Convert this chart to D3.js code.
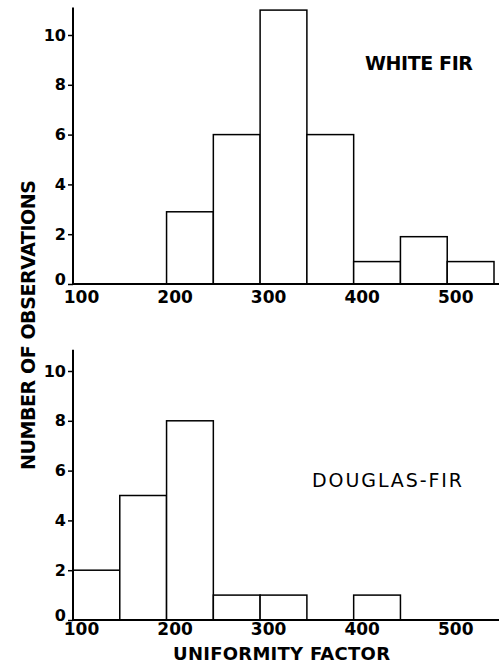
<!DOCTYPE html>
<html>
<head>
<meta charset="utf-8">
<script src="https://cdn.jsdelivr.net/npm/d3@7"></script>
<style>
  body { margin: 0; background: #fff; }
  svg { display: block; }
  .tick-label { font-family: "DejaVu Sans", sans-serif; font-weight: bold; fill: #000; }
  .bar { fill: #fff; stroke: #000; stroke-width: 1.5; }
  .axis-line { stroke: #000; stroke-width: 2; }
</style>
</head>
<body>
<script>
// histogram bins (uniformity factor, lower edge of each 50-wide class)
const binStarts = [100, 150, 200, 250, 300, 350, 400, 450, 500];
const binWidth = 50;
const whiteFir = [0, 0, 2.9, 6, 11, 6, 0.9, 1.9, 0.9];
const douglasFir = [2, 5, 8, 1, 1, 0, 1, 0, 0];
const xTicks = [100, 200, 300, 400, 500];
const yTicks = [0, 2, 4, 6, 8, 10];

const width = 499, height = 666;

const svg = d3.select("body").append("svg")
  .attr("width", width)
  .attr("height", height);

const x = d3.scaleLinear().domain([100, 550]).range([73, 494]);

function panel(values, baseline, axisTop, labelPad, label) {
  const y = d3.scaleLinear().domain([0, 10]).range([baseline, baseline - 249]);
  const g = svg.append("g");

  const bins = binStarts.map((b, i) => ({ x0: b, x1: b + binWidth, v: values[i] }))
                        .filter(d => d.v > 0);

  g.selectAll("rect.bar")
   .data(bins)
   .enter()
   .append("rect")
   .attr("class", "bar")
   .attr("x", d => x(d.x0))
   .attr("width", d => x(d.x1) - x(d.x0))
   .attr("y", d => y(d.v))
   .attr("height", d => y(0) - y(d.v));

  // y axis
  const yAxis = d3.axisLeft(y)
                  .tickValues(yTicks)
                  .tickSize(5)
                  .tickPadding(2);
  const ya = g.append("g")
              .attr("transform", `translate(${x(100)},0)`)
              .call(yAxis);
  ya.select(".domain").remove();
  ya.selectAll(".tick line").attr("stroke", "#000").attr("stroke-width", 1.5);
  ya.selectAll(".tick text")
    .attr("class", "tick-label")
    .attr("y", d => d === 0 ? -5 : 0)
    .style("font-size", "16px");

  g.append("line")
   .attr("class", "axis-line")
   .attr("x1", x(100)).attr("x2", x(100))
   .attr("y1", y(axisTop)).attr("y2", y(0));

  // x axis
  const xAxis = d3.axisBottom(x)
                  .tickValues(xTicks)
                  .tickSize(0)
                  .tickPadding(labelPad);
  const xa = g.append("g")
              .attr("transform", `translate(0,${y(0)})`)
              .call(xAxis);
  xa.select(".domain").remove();
  xa.selectAll(".tick text")
    .attr("class", "tick-label")
    .attr("dx", 8)
    .style("font-size", "17px");

  g.append("line")
   .attr("class", "axis-line")
   .attr("x1", x(100)).attr("x2", 499)
   .attr("y1", y(0)).attr("y2", y(0));

  g.append("text")
   .attr("x", label.x)
   .attr("y", label.y)
   .attr("textLength", label.len)
   .attr("lengthAdjust", "spacing")
   .style("font-family", "DejaVu Sans, sans-serif")
   .style("font-weight", label.bold ? "bold" : "normal")
   .style("font-size", "19px")
   .text(label.text);
}

panel(whiteFir, 284, 11.1, 7, { text: "WHITE FIR", x: 365, y: 70, len: 108, bold: true });
panel(douglasFir, 620, 10.85, 3, { text: "DOUGLAS-FIR", x: 312, y: 487, len: 150, bold: false });

// axis titles
svg.append("text")
   .attr("transform", "translate(35,325) rotate(-90)")
   .attr("text-anchor", "middle")
   .attr("textLength", 290)
   .attr("lengthAdjust", "spacing")
   .style("font-family", "DejaVu Sans, sans-serif")
   .style("font-weight", "bold")
   .style("font-size", "19px")
   .text("NUMBER OF OBSERVATIONS");

svg.append("text")
   .attr("x", 173)
   .attr("y", 660)
   .attr("textLength", 217)
   .attr("lengthAdjust", "spacing")
   .style("font-family", "DejaVu Sans, sans-serif")
   .style("font-weight", "bold")
   .style("font-size", "18px")
   .text("UNIFORMITY FACTOR");
</script>
</body>
</html>
